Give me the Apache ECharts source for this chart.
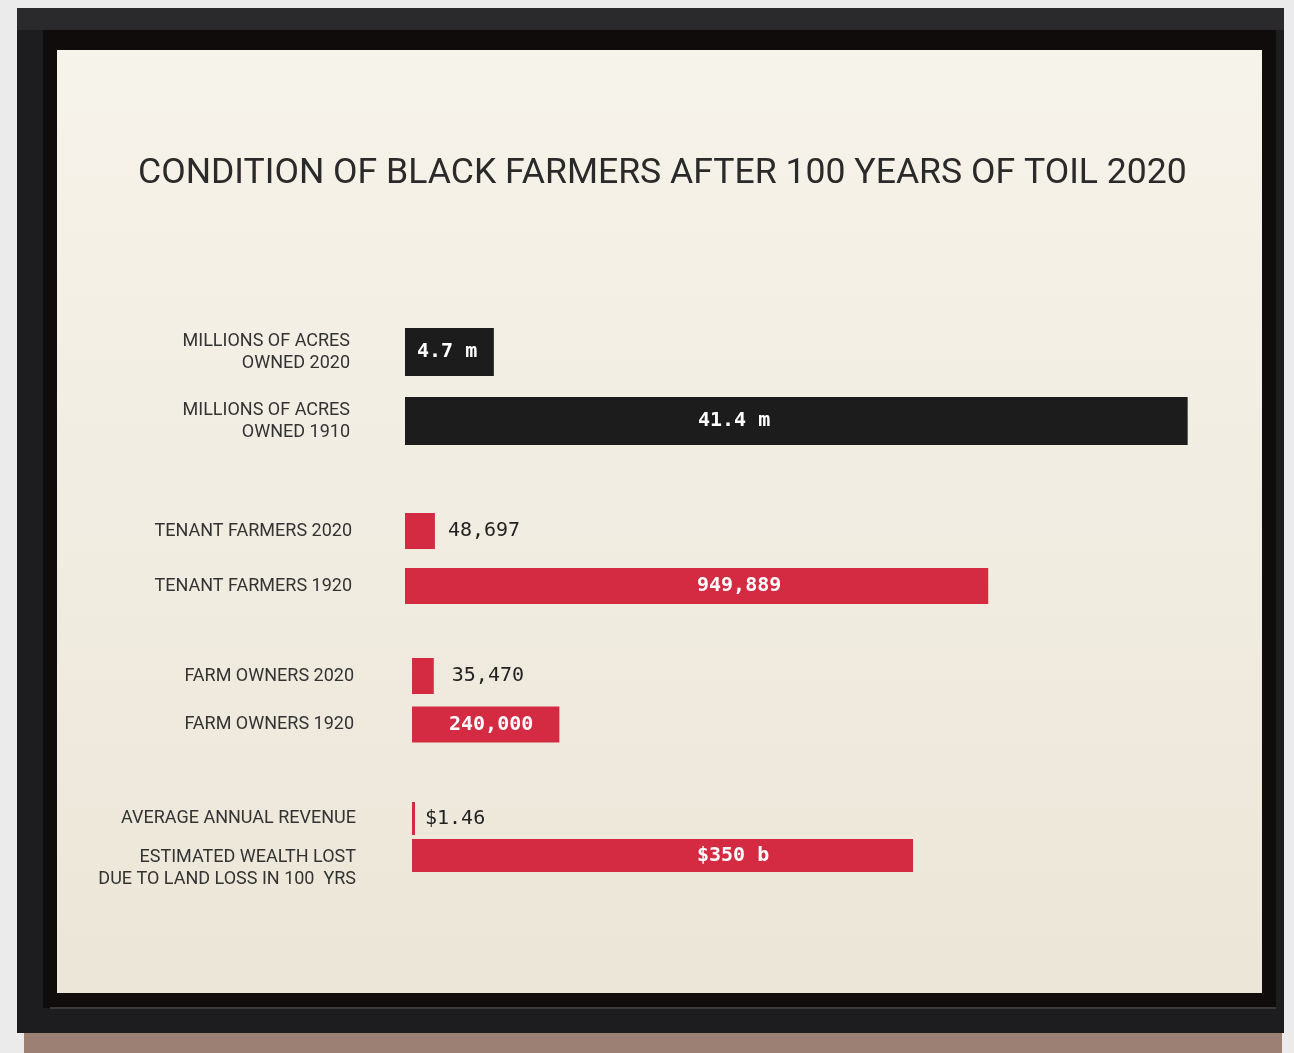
<!DOCTYPE html>
<html><head><meta charset="utf-8">
<script src="https://cdn.jsdelivr.net/npm/echarts@6/dist/echarts.min.js"></script>
<style>html,body{margin:0;padding:0;background:#ebebeb;}#c{width:1294px;height:1053px;}</style>
</head><body><div id="c"></div>
<script>
// ---- data ----
const titleText = 'CONDITION OF BLACK FARMERS AFTER 100 YEARS OF TOIL 2020';
const acreCategories = ['MILLIONS OF ACRES\nOWNED 2020', 'MILLIONS OF ACRES\nOWNED 1910'];
const acreValues = [4.7, 41.4];
const acreLabels = ['4.7 m', '41.4 m'];
const tenantCategories = ['TENANT FARMERS 2020', 'TENANT FARMERS 1920'];
const tenantValues = [48697, 949889];
const tenantLabels = ['48,697', '949,889'];
const ownerCategories = ['FARM OWNERS 2020', 'FARM OWNERS 1920'];
const ownerValues = [35470, 240000];
const ownerLabels = ['35,470', '240,000'];
const revenueCategories = ['AVERAGE ANNUAL REVENUE', 'ESTIMATED WEALTH LOST\nDUE TO LAND LOSS IN 100  YRS'];
const revenueValues = [1.46, 350];
const revenueLabels = ['$1.46', '$350 b'];

// ---- layout / style ----
const RED = '#d42a42', BLACK = '#1c1c1c';
const panels = [
  {cats: acreCategories, vals: acreValues, labels: acreLabels, color: BLACK,
   grid: {left: 405, top: 317.5, width: 794, height: 138}, max: 42, barWidth: 48, margin: 55,
   place: [{p: 'insideLeft', d: 12, c: '#fff', w: 'bold'}, {p: 'insideLeft', d: 293, c: '#fff', w: 'bold'}]},
  {cats: tenantCategories, vals: tenantValues, labels: tenantLabels, color: RED,
   grid: {left: 405, top: 503.5, width: 614, height: 110}, max: 1000000, barWidth: 36, margin: 53,
   place: [{p: 'right', d: 13, c: '#222', w: 'normal'}, {p: 'insideLeft', d: 292, c: '#fff', w: 'bold'}]},
  {cats: ownerCategories, vals: ownerValues, labels: ownerLabels, color: RED,
   grid: {left: 412, top: 651.75, width: 614, height: 97}, max: 1000000, barWidth: 36, margin: 58,
   place: [{p: 'right', d: 18, c: '#222', w: 'normal'}, {p: 'insideLeft', d: 37, c: '#fff', w: 'bold'}]},
  {cats: revenueCategories, vals: revenueValues, labels: revenueLabels, color: RED,
   grid: {left: 412, top: 800, width: 572.6, height: 74}, max: 400, barWidth: 33, margin: 56,
   place: [{p: 'right', d: 10, c: '#222', w: 'normal'}, {p: 'insideLeft', d: 285, c: '#fff', w: 'bold'}],
   padTop: [false, true]}
];

const grids = [], xAxes = [], yAxes = [], series = [];
panels.forEach((pn, i) => {
  grids.push(Object.assign({containLabel: false}, pn.grid));
  xAxes.push({type: 'value', gridIndex: i, min: 0, max: pn.max, show: false});
  yAxes.push({
    type: 'category', gridIndex: i, inverse: true, data: pn.cats,
    axisLine: {show: false}, axisTick: {show: false}, splitLine: {show: false},
    axisLabel: {
      interval: 0, hideOverlap: false, margin: pn.margin, color: '#333', fontFamily: 'Roboto',
      fontSize: 18, lineHeight: 22, align: 'right',
      formatter: (v, k) => (pn.padTop && pn.padTop[k]) ? '{pad| }\n' + v : v,
      rich: {pad: {fontSize: 2, lineHeight: 26, height: 26}}
    }
  });
  series.push({
    type: 'bar', xAxisIndex: i, yAxisIndex: i, barWidth: pn.barWidth, barMinHeight: 3,
    itemStyle: {color: pn.color},
    data: pn.vals.map((v, k) => ({
      value: v,
      label: {show: true, position: pn.place[k].p, distance: pn.place[k].d, color: pn.place[k].c,
              fontFamily: 'DejaVu Sans Mono', fontSize: 20, fontWeight: pn.place[k].w,
              formatter: () => pn.labels[k]}
    }))
  });
});

const chart = echarts.init(document.getElementById('c'));
chart.setOption({
  animation: false,
  backgroundColor: 'transparent',
  title: {text: titleText, left: 138, top: 156, padding: 0,
          textStyle: {fontFamily: 'Roboto', fontSize: 35.6, fontWeight: 'normal', color: '#2a2a2a'}},
  graphic: [
    {type: 'rect', shape: {x: 0, y: 0, width: 1294, height: 1053}, style: {fill: '#ebebeb'}, z: -10},
    {type: 'rect', shape: {x: 24, y: 1030, width: 1258, height: 23}, style: {fill: '#9c8074'}, z: -9},
    {type: 'rect', shape: {x: 17, y: 8, width: 1267, height: 1025}, style: {fill: '#1d1d1f'}, z: -8},
    {type: 'rect', shape: {x: 17, y: 8, width: 1267, height: 22}, style: {fill: '#2a2a2d'}, z: -7},
    {type: 'rect', shape: {x: 43, y: 30, width: 1233, height: 978}, style: {fill: '#0f0c0b'}, z: -6},
    {type: 'rect', shape: {x: 50, y: 1007, width: 1226, height: 2}, style: {fill: '#3a3a3c'}, z: -6},
    {type: 'rect', shape: {x: 57, y: 50, width: 1205, height: 943},
     style: {fill: new echarts.graphic.LinearGradient(0, 0, 0, 1, [
       {offset: 0, color: '#f6f3ea'}, {offset: 1, color: '#ece6d8'}])}, z: -5}
  ],
  grid: grids, xAxis: xAxes, yAxis: yAxes, series: series
});
</script></body></html>
